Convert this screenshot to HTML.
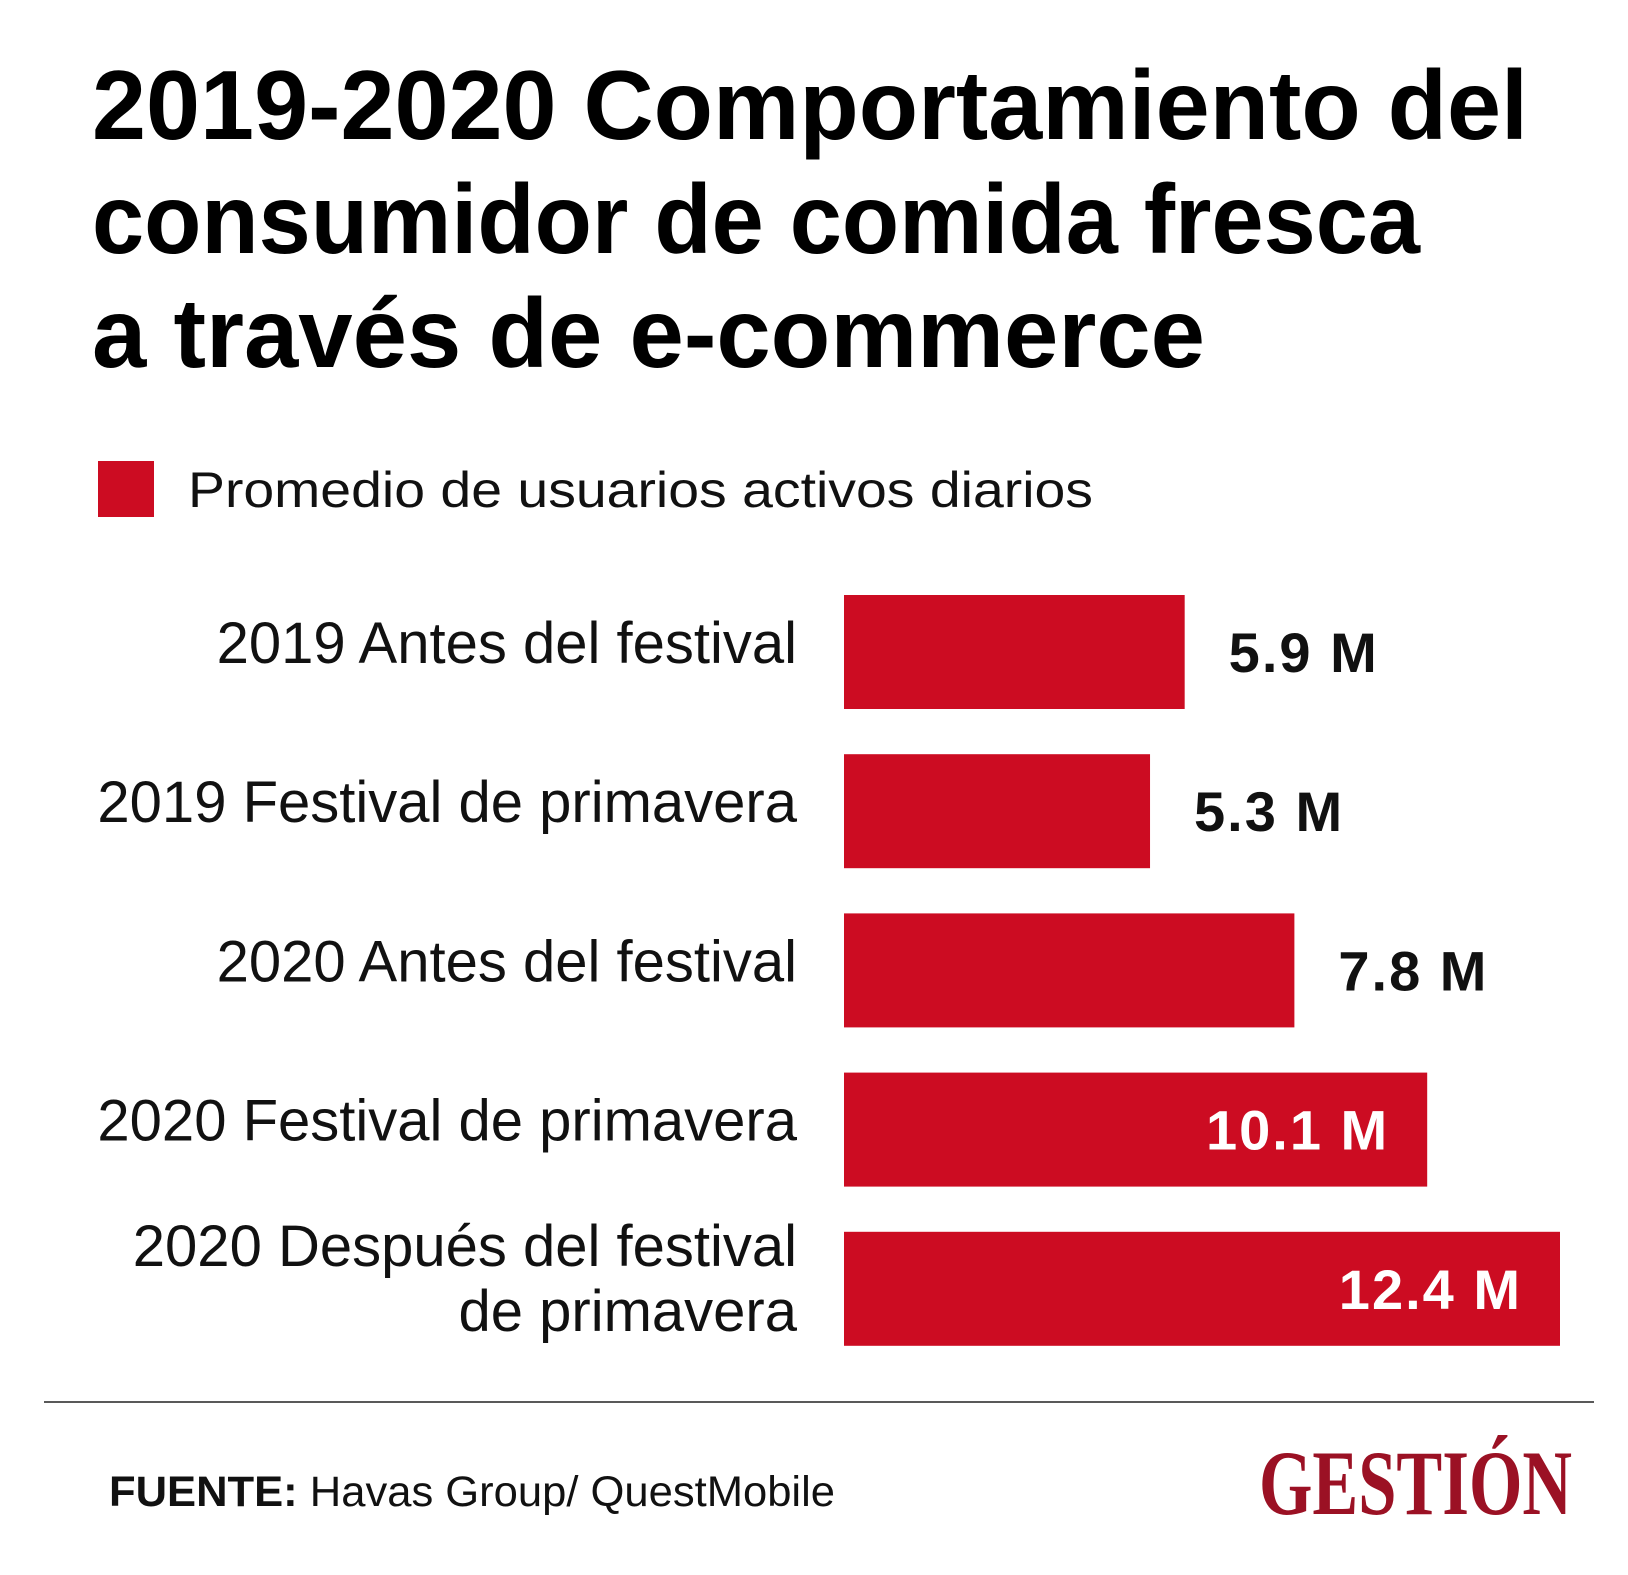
<!DOCTYPE html>
<html><head><meta charset="utf-8"><style>
html,body{margin:0;padding:0;background:#fff;}
svg{display:block;font-family:"Liberation Sans",sans-serif;}
</style></head><body>
<svg id="chart" width="1628" height="1575" viewBox="0 0 1628 1575">
<g font-weight="bold" font-size="98" fill="#000">
<text x="92" y="139" textLength="1436" lengthAdjust="spacingAndGlyphs">2019-2020 Comportamiento del</text>
<text x="92" y="253" textLength="1328" lengthAdjust="spacingAndGlyphs">consumidor de comida fresca</text>
<text x="92" y="367" textLength="1113" lengthAdjust="spacingAndGlyphs">a través de e-commerce</text>
</g>
<rect x="98" y="461" width="56" height="56" fill="#cc0c22"/>
<text x="188" y="507" font-size="50" textLength="905" lengthAdjust="spacingAndGlyphs" fill="#111">Promedio de usuarios activos diarios</text>
<g id="bars"></g>
<line x1="44" y1="1402" x2="1594" y2="1402" stroke="#222" stroke-width="1.5"/>
<text x="109" y="1506" font-size="43" fill="#111" textLength="726" lengthAdjust="spacingAndGlyphs"><tspan font-weight="bold">FUENTE:</tspan> Havas Group/ QuestMobile</text>
<text x="1259" y="1514" font-family="'Liberation Serif',serif" font-weight="bold" font-size="92" fill="#9b1124" textLength="313" lengthAdjust="spacingAndGlyphs">GESTIÓN</text>
</svg>
<script>
const categories = [["2019 Antes del festival"],["2019 Festival de primavera"],["2020  Antes del festival"],["2020 Festival de primavera"],["2020 Después del festival","de primavera"]];
const values = [5.9, 5.3, 7.8, 10.1, 12.4];
const valueLabels = ["5.9 M","5.3 M","7.8 M","10.1 M","12.4 M"];
const NS="http://www.w3.org/2000/svg";
const g=document.getElementById('bars');
const x0=844, pxPerUnit=716/12.4;
const xScale=v=>x0+v*pxPerUnit;
const yTop=i=>595+i*159.2;
const barH=114;
values.forEach((v,i)=>{
  const r=document.createElementNS(NS,'rect');
  r.setAttribute('x',x0);r.setAttribute('y',yTop(i));
  r.setAttribute('width',xScale(v)-x0);r.setAttribute('height',barH);
  r.setAttribute('fill','#cc0c22');
  
  
  g.appendChild(r);
  const t=document.createElementNS(NS,'text');
  const inside=v>9;
  t.setAttribute('x',inside?xScale(v)-38:xScale(v)+44);
  t.setAttribute('text-anchor',inside?'end':'start');
  t.setAttribute('y',yTop(i)+barH/2+20);
  t.setAttribute('font-size','56');t.setAttribute('font-weight','bold');
  t.setAttribute('letter-spacing','2');
  t.setAttribute('fill',inside?'#fff':'#111');
  t.textContent=valueLabels[i];
  
  
  g.appendChild(t);
  const lines=categories[i];
  lines.forEach((ln,j)=>{
    const c=document.createElementNS(NS,'text');
    c.setAttribute('x',797);c.setAttribute('text-anchor','end');
    const base=lines.length===1?yTop(i)+barH/2+11:yTop(i)+barH/2-23+j*65;
    c.setAttribute('y',base);
    c.setAttribute('font-size','58');c.setAttribute('fill','#111');
    c.textContent=ln;
    
    
    g.appendChild(c);
  });
});
</script>
</body></html>
